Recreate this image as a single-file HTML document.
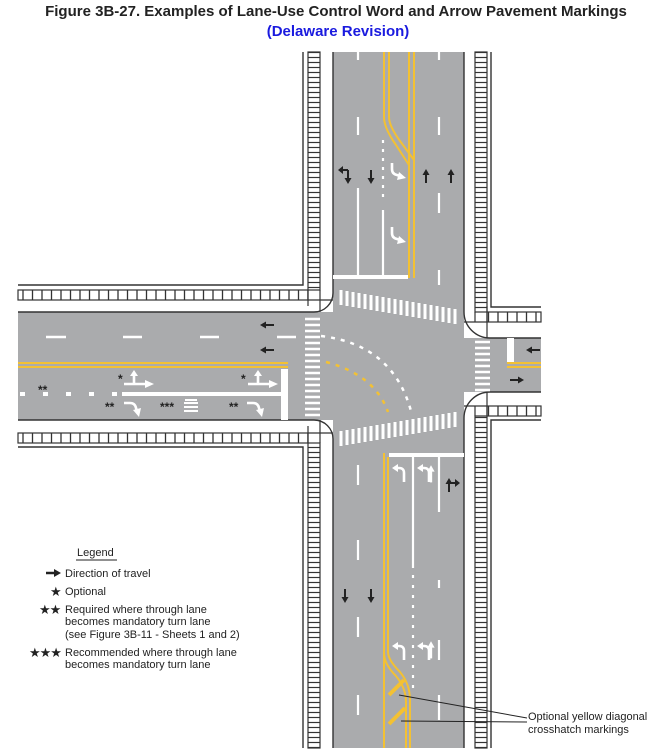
<!DOCTYPE html>
<html><head><meta charset="utf-8"><style>
html,body{margin:0;padding:0;background:#fff;width:672px;height:752px;overflow:hidden}
svg{display:block}
text{font-family:"Liberation Sans",Arial,sans-serif}
</style></head><body>
<svg width="672" height="752" viewBox="0 0 672 752" xmlns="http://www.w3.org/2000/svg">
<defs>
<pattern id="rv" width="12" height="5" patternUnits="userSpaceOnUse"><rect width="12" height="5" fill="#fff"/><line x1="0" y1="2.5" x2="12" y2="2.5" stroke="#333" stroke-width="1.2"/></pattern>
<pattern id="rh" width="9.5" height="10" patternUnits="userSpaceOnUse"><rect width="9.5" height="10" fill="#fff"/><line x1="4" y1="0" x2="4" y2="10" stroke="#333" stroke-width="1.3"/></pattern>
<g id="ba"><path d="M0,12 L0,3" stroke="#222" stroke-width="2"/><path d="M-3.5,4 L0,-2 L3.5,4 Z" fill="#222"/></g>
<g id="tN"><path d="M0,0 L0,6 Q0,11 5,12 L8,13" stroke="#fff" stroke-width="2.6" fill="none"/><path d="M7,9 L14,15 L5,17Z" fill="#fff"/></g>
<g id="tW"><path d="M0,0 L6,0 Q11,0 12,5 L13,8" stroke="#fff" stroke-width="2.6" fill="none"/><path d="M9,7 L15,14 L17,5Z" fill="#fff"/></g>
<g id="tS"><path d="M0,16 L0,7 Q0,2 -5,2 L-7,2" stroke="#fff" stroke-width="2.6" fill="none"/><path d="M-6,-2 L-12,2 L-6,6Z" fill="#fff"/></g>
<g id="up"><path d="M0,16 L0,3" stroke="#fff" stroke-width="2.6"/><path d="M-4,4 L0,-3 L4,4Z" fill="#fff"/></g>
</defs>

<text x="336" y="16" text-anchor="middle" font-size="15" font-weight="bold" fill="#222">Figure 3B-27.  Examples of Lane-Use Control Word and Arrow Pavement Markings</text>
<text x="338" y="36" text-anchor="middle" font-size="15" font-weight="bold" fill="#1a1adf">(Delaware Revision)</text>

<g fill="#aaabad">
<rect x="333" y="52" width="131" height="696"/>
<rect x="18" y="312" width="330" height="108"/>
<rect x="440" y="338" width="101" height="54"/>
</g>
<rect x="308" y="52" width="12" height="238" fill="url(#rv)" stroke="#333" stroke-width="1.2"/>
<rect x="308" y="443" width="12" height="305" fill="url(#rv)" stroke="#333" stroke-width="1.2"/>
<rect x="475" y="52" width="12" height="260" fill="url(#rv)" stroke="#333" stroke-width="1.2"/>
<rect x="475" y="416" width="12" height="332" fill="url(#rv)" stroke="#333" stroke-width="1.2"/>
<rect x="18" y="290" width="290" height="10" fill="url(#rh)" stroke="#333" stroke-width="1.2"/>
<rect x="18" y="433" width="290" height="10" fill="url(#rh)" stroke="#333" stroke-width="1.2"/>
<rect x="487" y="312" width="54" height="10" fill="url(#rh)" stroke="#333" stroke-width="1.2"/>
<rect x="487" y="406" width="54" height="10" fill="url(#rh)" stroke="#333" stroke-width="1.2"/>
<g stroke="#333" stroke-width="1.2">
<path d="M308,290 V306 M320,290 V312 M308,300 H333"/>
<path d="M308,426 V443 M320,420 V443 M308,433 H333"/>
<path d="M475,312 V322 M487,306 V338 M464,322 H487"/>
<path d="M475,406 V416 M487,392 V416 M464,406 H487"/>
</g>
<g stroke="#333" stroke-width="1.4" fill="none">
<path d="M303,52 L303,285 L18,285"/>
<path d="M18,447 L303,447 L303,748"/>
<path d="M491,52 L491,307 L541,307"/>
<path d="M541,420 L491,420 L491,748"/>
<path d="M333,52 L333,293 A19,19 0 0 1 314,312 L18,312"/>
<path d="M18,420 L314,420 A19,19 0 0 1 333,439 L333,748"/>
<path d="M464,52 L464,312 A26,26 0 0 0 490,338 L541,338"/>
<path d="M541,392 L490,392 A26,26 0 0 0 464,418 L464,748"/>
</g>

<!-- NORTH -->
<g stroke="#f3c133" stroke-width="2" fill="none">
<path d="M409,52 L409,278"/><path d="M414,52 L414,278"/>
<path d="M384,52 L384,117 Q384,128 396,145 L409,165"/>
<path d="M389,52 L389,117 Q389,126 400,141 L414,160"/>
</g>
<g stroke="#fff" stroke-width="2.2" fill="none">
<path d="M333,277 L408,277" stroke-width="4"/>
<path d="M358,188 L358,275"/>
<path d="M383,210 L383,275"/>
<path d="M383,140 L383,200" stroke-dasharray="3,6"/>
<path d="M358,52 L358,60 M358,117 L358,135 M439,52 L439,60 M439,117 L439,135 M439,193 L439,213 M439,270 L439,285"/>
</g>
<use href="#tN" transform="translate(392,163)"/>
<use href="#tN" transform="translate(392,227)"/>
<use href="#ba" transform="translate(426,171)"/>
<use href="#ba" transform="translate(451,171)"/>
<use href="#ba" transform="translate(371,182) rotate(180)"/>
<use href="#ba" transform="translate(348,182) rotate(180)"/>
<path d="M348,170 L341,170" stroke="#222" stroke-width="2"/><path d="M343,166 L338,170 L343,174Z" fill="#222"/>

<!-- crosswalks -->
<g stroke="#fff" stroke-width="3">
<path d="M341,290 L341,305 M347,291 L347,306 M353,292 L353,307 M359,293 L359,308 M365,294 L365,309 M371,295 L371,310 M377,296 L377,311 M383,297 L383,312 M389,298 L389,313 M395,299 L395,314 M401,300 L401,315 M407,301 L407,316 M413,302 L413,317 M419,303 L419,318 M425,304 L425,319 M431,305 L431,320 M437,306 L437,321 M443,307 L443,322 M449,308 L449,323 M455,309 L455,324"/>
<path d="M341,431 L341,446 M347,430 L347,445 M353,429 L353,444 M359,428 L359,443 M365,427 L365,442 M371,426 L371,441 M377,425 L377,440 M383,424 L383,439 M389,423 L389,438 M395,422 L395,437 M401,421 L401,436 M407,420 L407,435 M413,419 L413,434 M419,418 L419,433 M425,417 L425,432 M431,416 L431,431 M437,415 L437,430 M443,414 L443,429 M449,413 L449,428 M455,412 L455,427"/>
</g>
<g stroke="#fff" stroke-width="2.5">
<path d="M305,319 h15 M305,325 h15 M305,331 h15 M305,337 h15 M305,343 h15 M305,349 h15 M305,355 h15 M305,361 h15 M305,367 h15 M305,373 h15 M305,379 h15 M305,385 h15 M305,391 h15 M305,397 h15 M305,403 h15 M305,409 h15 M305,415 h15"/>
<path d="M475,342 h15 M475,348 h15 M475,354 h15 M475,360 h15 M475,366 h15 M475,372 h15 M475,378 h15 M475,384 h15 M475,390 h15"/>
</g>
<path d="M321,336 Q395,345 412,415" stroke="#fff" stroke-width="2.5" fill="none" stroke-dasharray="4,6"/>
<path d="M326,362 Q375,375 388,412" stroke="#f3c133" stroke-width="2.5" fill="none" stroke-dasharray="4,6"/>

<!-- WEST -->
<g stroke="#fff" stroke-width="2.5">
<path d="M46,337 h20 M123,337 h19 M200,337 h19 M277,337 h19"/>
</g>
<path d="M18,363 H288" stroke="#f3c133" stroke-width="2"/><path d="M18,367 H288" stroke="#f3c133" stroke-width="2"/>
<rect x="281" y="369" width="7" height="51" fill="#fff"/>
<path d="M18,394 H120" stroke="#fff" stroke-width="4" stroke-dasharray="5,18" stroke-dashoffset="-2"/>
<path d="M122,394 H281" stroke="#fff" stroke-width="4"/>
<use href="#ba" transform="translate(262,325) rotate(-90)"/>
<use href="#ba" transform="translate(262,350) rotate(-90)"/>
<g stroke="#fff" stroke-width="2.6" fill="none">
<path d="M124,384 H146 M134,384 L134,375"/>
<path d="M248,384 H270 M258,384 L258,375"/>
</g>
<path d="M145,380 L154,384 L145,388Z M130,376 L134,370 L138,376Z" fill="#fff"/>
<path d="M269,380 L278,384 L269,388Z M254,376 L258,370 L262,376Z" fill="#fff"/>
<use href="#tW" transform="translate(124,403)"/>
<use href="#tW" transform="translate(247,403)"/>
<g font-size="12" font-weight="bold" fill="#222">
<text x="118" y="383">*</text><text x="241" y="383">*</text>
<text x="38" y="394">**</text><text x="105" y="411">**</text><text x="229" y="411">**</text><text x="160" y="411">***</text>
</g>
<g fill="#fff"><rect x="184" y="402" width="14" height="2"/><rect x="184" y="406" width="14" height="2"/><rect x="184" y="410" width="14" height="2"/><rect x="185" y="399" width="12" height="2"/></g>

<!-- EAST -->
<rect x="507" y="338" width="7" height="25" fill="#fff"/>
<path d="M507,363 H541" stroke="#f3c133" stroke-width="2"/><path d="M507,367 H541" stroke="#f3c133" stroke-width="2"/>
<use href="#ba" transform="translate(528,350) rotate(-90)"/>
<use href="#ba" transform="translate(522,380) rotate(90)"/>

<!-- SOUTH -->
<path d="M389,455 H464" stroke="#fff" stroke-width="4"/>
<g stroke="#f3c133" stroke-width="2" fill="none">
<path d="M384,453 L384,748"/>
<path d="M388,457 L388,652 Q388,660 400,672 Q410,684 410,700 L410,748"/>
<path d="M384,653 Q384,664 396,676 Q406,688 406,702 L406,748"/>
<path d="M389,695 L404,680 M389,724 L405,708" stroke-width="4"/>
</g>
<g stroke="#fff" stroke-width="2.2" fill="none">
<path d="M413,457 L413,568"/>
<path d="M413,575 L413,690" stroke-dasharray="3,7"/>
<path d="M439,457 L439,512 M439,580 L439,588 M439,640 L439,660 M439,695 L439,720 M358,465 L358,485 M358,540 L358,560 M358,617 L358,637 M358,695 L358,715"/>
</g>
<use href="#tS" transform="translate(404,466)"/>
<use href="#tS" transform="translate(429,466)"/>
<use href="#up" transform="translate(431,468) scale(0.9)"/>
<use href="#tS" transform="translate(404,644)"/>
<use href="#tS" transform="translate(429,644)"/>
<use href="#up" transform="translate(431,644) scale(0.9)"/>
<use href="#ba" transform="translate(449,480)"/>
<path d="M449,483 H456" stroke="#222" stroke-width="2"/><path d="M455,479 L460,483 L455,487Z" fill="#222"/>
<use href="#ba" transform="translate(345,601) rotate(180)"/>
<use href="#ba" transform="translate(371,601) rotate(180)"/>

<path d="M527,718 L399,695 M527,722 L401,721" stroke="#222" stroke-width="1"/>
<g font-size="11" fill="#222">
<text x="528" y="720">Optional yellow diagonal</text>
<text x="528" y="733">crosshatch markings</text>
</g>

<g font-size="11" fill="#222">
<text x="77" y="556">Legend</text>
<path d="M76,560 H117" stroke="#222" stroke-width="1"/>
<path d="M46,573 H55" stroke="#222" stroke-width="2.5"/><path d="M54,569 L61,573 L54,577Z" fill="#222"/>
<text x="65" y="577">Direction of travel</text>
<text x="50" y="596" font-size="13">★</text><text x="65" y="595">Optional</text>
<text x="39" y="614" font-size="13" letter-spacing="-1">★★</text>
<text x="65" y="613">Required where through lane</text>
<text x="65" y="625">becomes mandatory turn lane</text>
<text x="65" y="638">(see Figure 3B-11 - Sheets 1 and 2)</text>
<text x="29" y="657" font-size="13" letter-spacing="-1">★★★</text>
<text x="65" y="656">Recommended where through lane</text>
<text x="65" y="668">becomes mandatory turn lane</text>
</g>
</svg>
</body></html>
